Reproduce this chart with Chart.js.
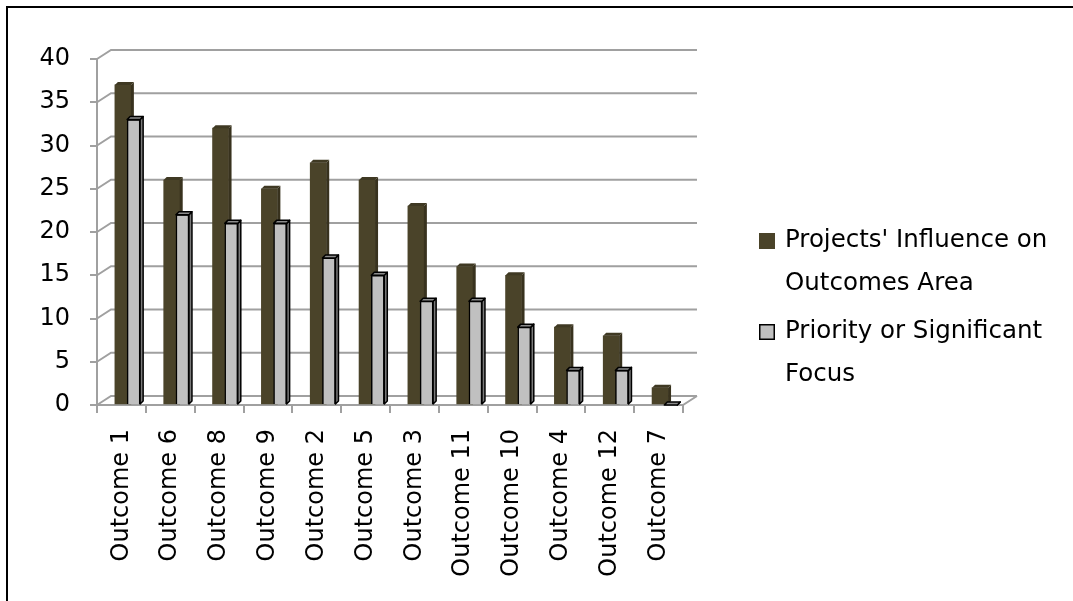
<!DOCTYPE html>
<html>
<head>
<meta charset="utf-8">
<script src="https://cdn.jsdelivr.net/npm/chart.js@4/dist/chart.umd.min.js"></script>
<style>
  html, body { margin: 0; padding: 0; background: #fff; overflow: hidden; }
  #wrap { position: relative; width: 1073px; height: 601px; }
  #frame { position: absolute; left: 6px; top: 6px; width: 1200px; height: 700px;
           border-left: 2px solid #000; border-top: 2px solid #000; pointer-events: none; }
</style>
</head>
<body>
<div id="wrap">
  <canvas id="grafico"></canvas>
  <div id="frame"></div>
</div>
<script>
// dados do grafico
const categorias = ['Outcome 1', 'Outcome 6', 'Outcome 8', 'Outcome 9', 'Outcome 2', 'Outcome 5',
                    'Outcome 3', 'Outcome 11', 'Outcome 10', 'Outcome 4', 'Outcome 12', 'Outcome 7'];
const influencia = [37, 26, 32, 25, 28, 26, 23, 16, 15, 9, 8, 2];
const foco = [33, 22, 21, 21, 17, 15, 12, 12, 9, 4, 4, 0];
const nomesSeries = ["Projects' Influence on Outcomes Area", 'Priority or Significant Focus'];
const eixoY = { min: 0, max: 40, passo: 5 };

const FONTE = '"DejaVu Sans", sans-serif';
const COR_GRADE = '#a0a0a0';
const DX = 14, DY = -9;   // profundidade da parede do fundo

// desloca as barras dentro de cada categoria (efeito 3D do Excel)
const deslocamento = {
    id: 'deslocamento',
    afterDatasetsUpdate(chart) {
        const w = chart.scales.x.width / categorias.length;
        chart.getDatasetMeta(0).data.forEach(b => { b.x += 0.03 * w; });
        chart.getDatasetMeta(1).data.forEach(b => { b.x += 0.25 * w; });
    }
};

// parede do fundo com as linhas de grade
const fundo3d = {
    id: 'fundo3d',
    beforeDatasetsDraw(chart) {
        const ctx = chart.ctx, a = chart.chartArea, y = chart.scales.y;
        ctx.save();
        ctx.strokeStyle = COR_GRADE;
        ctx.lineWidth = 2;
        y.ticks.forEach(t => {
            const py = y.getPixelForValue(t.value);
            ctx.beginPath();
            ctx.moveTo(a.left, py);
            ctx.lineTo(a.left + DX, py + DY);
            ctx.lineTo(a.right + DX, py + DY);
            ctx.stroke();
        });
        // chao
        const p0 = y.getPixelForValue(0);
        ctx.beginPath();
        ctx.moveTo(a.left, p0);
        ctx.lineTo(a.right, p0);
        ctx.lineTo(a.right + DX, p0 + DY);
        ctx.stroke();
        ctx.restore();
    }
};

// faces laterais e topo das barras
const faces3d = {
    id: 'faces3d',
    afterDatasetDraw(chart, args) {
        const ctx = chart.ctx;
        const ds = chart.data.datasets[args.index];
        const d = 3;
        args.meta.data.forEach(b => {
            const l = b.x - b.width / 2, r = b.x + b.width / 2, t = b.y, base = b.base;
            ctx.save();
            ctx.lineWidth = ds.borderWidth;
            ctx.strokeStyle = ds.borderColor;
            ctx.lineJoin = 'round';
            // lado
            ctx.fillStyle = ds.corLado;
            ctx.beginPath();
            ctx.moveTo(r, t);
            ctx.lineTo(r + d, t - d);
            ctx.lineTo(r + d, base - d);
            ctx.lineTo(r, base);
            ctx.closePath();
            ctx.fill();
            if (ds.borderWidth) ctx.stroke();
            // topo
            ctx.fillStyle = ds.corTopo;
            ctx.beginPath();
            ctx.moveTo(l, t);
            ctx.lineTo(l + d, t - d);
            ctx.lineTo(r + d, t - d);
            ctx.lineTo(r, t);
            ctx.closePath();
            ctx.fill();
            if (ds.borderWidth) ctx.stroke();
            ctx.restore();
        });
    }
};

// quebra de linha do texto da legenda
function quebrar(ctx, texto, largura) {
    const palavras = texto.split(' ');
    const linhas = [];
    let atual = '';
    palavras.forEach(p => {
        const teste = atual ? atual + ' ' + p : p;
        if (ctx.measureText(teste).width > largura && atual) {
            linhas.push(atual);
            atual = p;
        } else {
            atual = teste;
        }
    });
    linhas.push(atual);
    return linhas;
}

// legenda a direita
const legenda = {
    id: 'legenda',
    afterDraw(chart) {
        const ctx = chart.ctx;
        const x0 = chart.chartArea.right + 76;
        let y = 241;
        ctx.save();
        ctx.font = '24.5px ' + FONTE;
        ctx.textBaseline = 'middle';
        chart.data.datasets.forEach(ds => {
            const linhas = quebrar(ctx, ds.label, 285);
            ctx.fillStyle = ds.backgroundColor;
            ctx.fillRect(x0, y - 8, 16, 16);
            if (ds.borderWidth) {
                ctx.strokeStyle = '#000';
                ctx.lineWidth = 1.5;
                ctx.strokeRect(x0 + 0.75, y - 8 + 0.75, 14.5, 14.5);
            }
            ctx.fillStyle = '#000';
            linhas.forEach((ln, i) => ctx.fillText(ln, x0 + 26, y + i * 43));
            y += linhas.length * 43 + 5;
        });
        ctx.restore();
    }
};

const ctx = document.getElementById('grafico').getContext('2d');

new Chart(ctx, {
    type: 'bar',
    data: {
        labels: categorias,
        datasets: [{
            label: nomesSeries[0],
            data: influencia,
            backgroundColor: '#4a4329',
            corLado: '#38321e',
            corTopo: '#3f3923',
            borderColor: '#4a4329',
            borderWidth: 0,
            barThickness: 16,
            grouped: false,
            order: 2
        }, {
            label: nomesSeries[1],
            data: foco,
            backgroundColor: '#c0c0c0',
            corLado: '#7a7a7a',
            corTopo: '#8c8c8c',
            borderColor: '#000',
            borderWidth: 1.5,
            barThickness: 13,
            grouped: false,
            order: 1
        }]
    },
    options: {
        responsive: true,
        maintainAspectRatio: false,
        animation: false,
        layout: { padding: { top: 59, right: 390, left: 0, bottom: 0 } },
        plugins: {
            legend: { display: false },
            tooltip: { enabled: false }
        },
        scales: {
            x: {
                grid: { display: true, drawOnChartArea: false, drawTicks: true, tickLength: 8,
                        color: COR_GRADE, lineWidth: 2 },
                border: { display: true, color: COR_GRADE, width: 2 },
                ticks: { autoSkip: false, minRotation: 90, maxRotation: 90, padding: 16,
                         color: '#000', font: { family: FONTE, size: 24 } },
                afterFit(s) { s.height = 196; }
            },
            y: {
                min: eixoY.min,
                max: eixoY.max,
                ticks: { stepSize: eixoY.passo, padding: 20, color: '#000',
                         font: { family: FONTE, size: 24 } },
                grid: { display: true, drawOnChartArea: false, drawTicks: true, tickLength: 7,
                        color: COR_GRADE, lineWidth: 2 },
                border: { display: true, color: COR_GRADE, width: 2 },
                afterFit(s) { s.width = 97; }
            }
        }
    },
    plugins: [deslocamento, fundo3d, faces3d, legenda]
});
</script>
</body>
</html>
